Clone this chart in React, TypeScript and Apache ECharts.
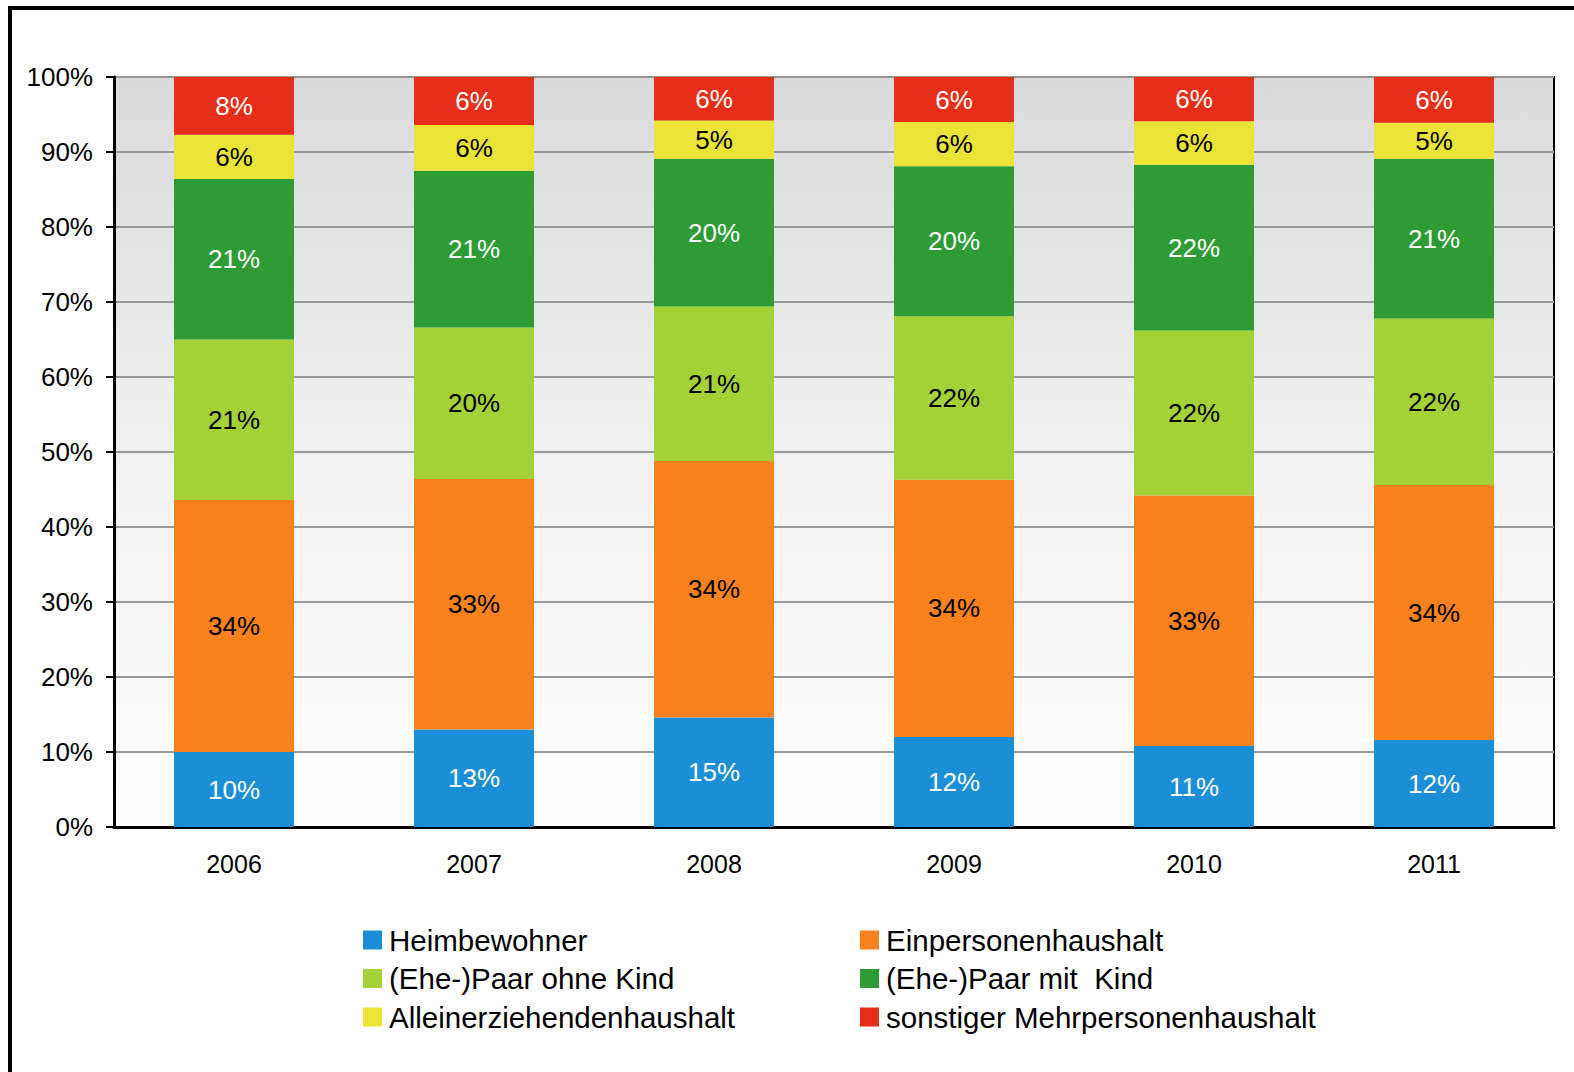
import React, { useEffect, useRef } from "react";
import * as echarts from "echarts";

const years = ["2006", "2007", "2008", "2009", "2010", "2011"];
const heimbewohner = [10.0, 13.0, 14.6, 12.0, 10.8, 11.6];
const einpersonen = [33.6, 33.4, 34.2, 34.3, 33.4, 34.0];
const paarOhneKind = [21.4, 20.2, 20.6, 21.8, 22.0, 22.2];
const paarMitKind = [21.4, 20.9, 19.7, 20.0, 22.1, 21.3];
const alleinerziehend = [5.9, 6.1, 5.1, 5.9, 5.8, 4.8];
const sonstige = [7.7, 6.4, 5.8, 6.0, 5.9, 6.1];
const yTicks = [0, 10, 20, 30, 40, 50, 60, 70, 80, 90, 100];

const seriesDefs = [
  { name: "Heimbewohner", data: heimbewohner, color: "#1a8fd8", label: "#ffffff" },
  { name: "Einpersonenhaushalt", data: einpersonen, color: "#f9821c", label: "#000000" },
  { name: "(Ehe-)Paar ohne Kind", data: paarOhneKind, color: "#a4d136", label: "#000000" },
  { name: "(Ehe-)Paar mit  Kind", data: paarMitKind, color: "#2e9b35", label: "#ffffff" },
  { name: "Alleinerziehendenhaushalt", data: alleinerziehend, color: "#ebe335", label: "#000000" },
  { name: "sonstiger Mehrpersonenhaushalt", data: sonstige, color: "#e62e19", label: "#ffffff" },
];

const FONT = "Liberation Sans, Arial, sans-serif";

export default function App() {
  const ref = useRef<HTMLDivElement>(null);
  useEffect(() => {
    document.body.style.margin = "0";
    const chart = echarts.init(ref.current!, null, { renderer: "svg" });
    const legendText = { fontSize: 29.5, color: "#000", fontFamily: FONT, padding: [0, 0, 0, 2] };
    const legendBase = {
      orient: "vertical",
      top: 925,
      padding: 0,
      itemWidth: 19,
      itemHeight: 19,
      itemGap: 8.5,
      icon: "rect",
      textStyle: legendText,
    };
    chart.setOption({
      animation: false,
      backgroundColor: "#ffffff",
      textStyle: { fontFamily: FONT },
      grid: {
        left: 114,
        right: 20,
        top: 77,
        bottom: 245,
        show: true,
        borderColor: "#000",
        borderWidth: 2,
        backgroundColor: new echarts.graphic.LinearGradient(0, 0, 0, 1, [
          { offset: 0, color: "#dadada" },
          { offset: 0.55, color: "#f2f2f2" },
          { offset: 1, color: "#ffffff" },
        ]),
      },
      legend: [
        { ...legendBase, left: 363, data: [seriesDefs[0].name, seriesDefs[2].name, seriesDefs[4].name] },
        { ...legendBase, left: 860, data: [seriesDefs[1].name, seriesDefs[3].name, seriesDefs[5].name] },
      ],
      xAxis: {
        type: "category",
        data: years,
        axisLine: { lineStyle: { color: "#000", width: 3 } },
        axisTick: { show: false },
        axisLabel: { fontSize: 25, color: "#000", margin: 24, fontFamily: FONT },
      },
      yAxis: {
        type: "value",
        min: yTicks[0],
        max: yTicks[yTicks.length - 1],
        interval: 10,
        axisLine: { show: true, lineStyle: { color: "#000", width: 3 } },
        axisTick: { show: true, length: 8, lineStyle: { color: "#000", width: 2 } },
        axisLabel: { fontSize: 26, color: "#000", margin: 21, formatter: "{value}%", fontFamily: FONT },
        splitLine: { lineStyle: { color: "#999999", width: 2 } },
      },
      series: seriesDefs.map((s) => ({
        name: s.name,
        type: "bar",
        stack: "total",
        barWidth: "50%",
        data: s.data,
        itemStyle: { color: s.color },
        label: {
          show: true,
          position: "inside",
          color: s.label,
          fontSize: 26,
          fontFamily: FONT,
          formatter: (p: any) => Math.round(p.value) + "%",
        },
      })),
      graphic: [
        { type: "line", shape: { x1: 10, y1: 8, x2: 1574, y2: 8 }, style: { stroke: "#000", lineWidth: 4 } },
        { type: "line", shape: { x1: 10, y1: 6, x2: 10, y2: 1072 }, style: { stroke: "#000", lineWidth: 4 } },
      ],
    });
    return () => chart.dispose();
  }, []);
  return <div ref={ref} style={{ position: "fixed", left: 0, top: 0, width: 1574, height: 1072 }} />;
}
